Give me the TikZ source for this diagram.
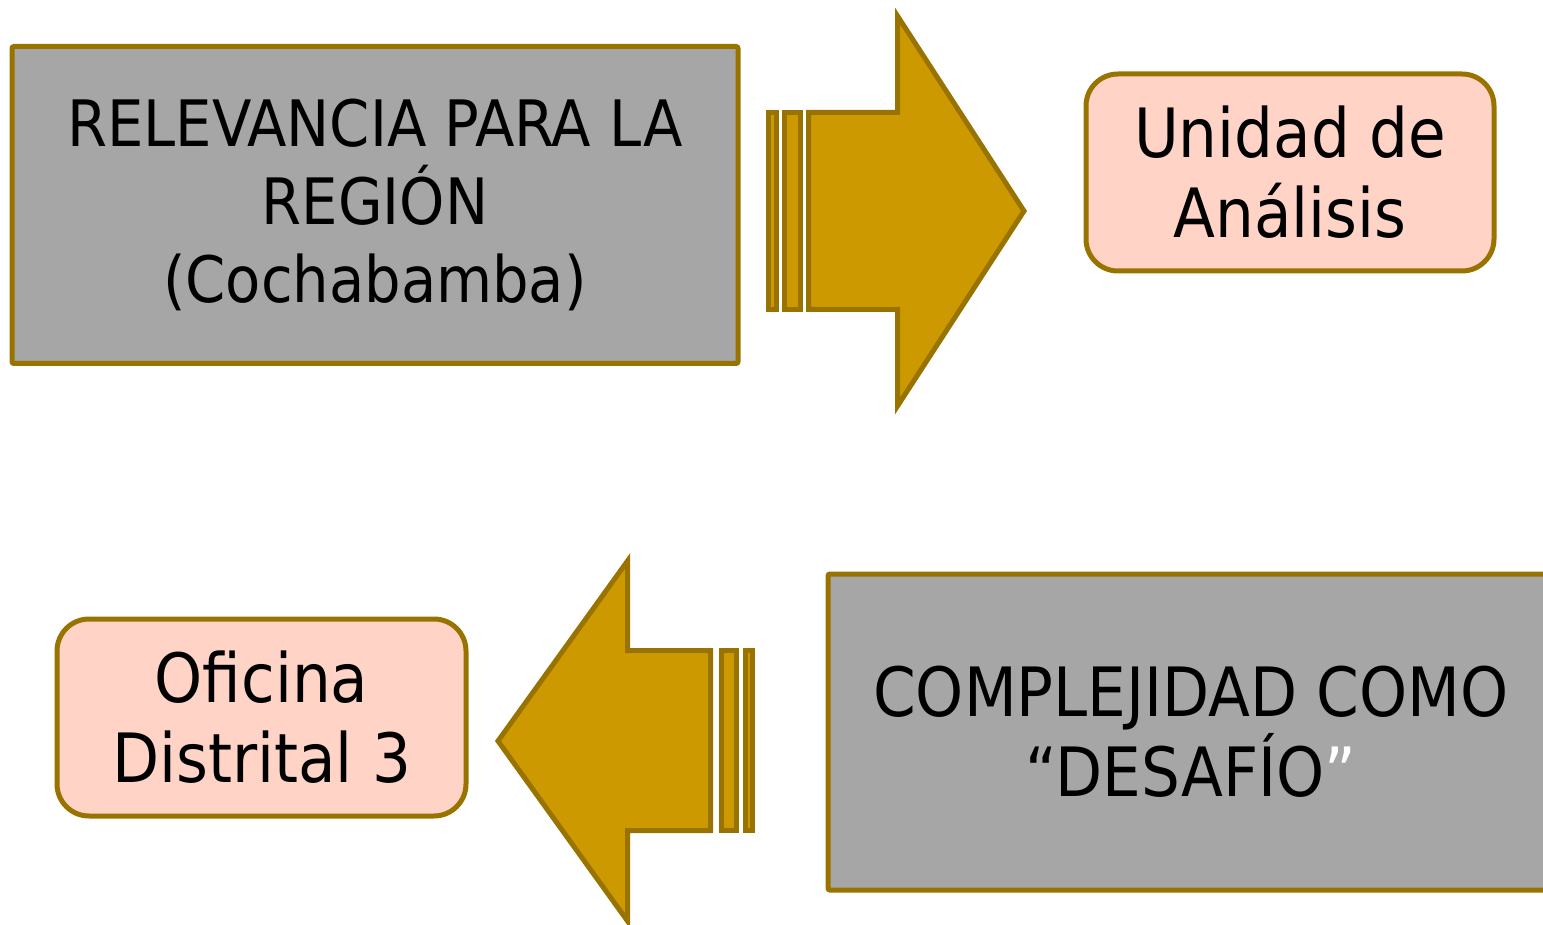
\documentclass[tikz,border=0pt]{standalone}
\usepackage{fontspec}
\setmainfont{DejaVu Sans Condensed}
\usetikzlibrary{positioning}
\definecolor{gris}{HTML}{A6A6A6}
\definecolor{rosa}{HTML}{FFD3C5}
\definecolor{oro}{HTML}{CC9900}
\definecolor{orobrd}{HTML}{997300}

\tikzset{
  caja/.style={draw=orobrd, line width=2.5pt, fill=gris, align=center,
    inner sep=0pt, rounded corners=1pt},
  tarjeta/.style={caja, fill=rosa, rounded corners=16pt},
  flecha/.style={draw=orobrd, line width=2.5pt, fill=oro, line join=miter},
}

\begin{document}
\begin{tikzpicture}[x=0.5pt,y=-0.5pt]
  \useasboundingbox (0,0) rectangle (1543,925);
  \clip (0,0) rectangle (1543,925);
  % gray boxes
  \node[caja, minimum width=363pt, minimum height=158.5pt,
        font=\fontsize{32}{39}\selectfont] (relev) at (375,205)
        {RELEVANCIA PARA LA\\REGIÓN\\(Cochabamba)};
  \node[caja, minimum width=363pt, minimum height=158pt,
        font=\fontsize{34}{40}\selectfont] (compl) at (1191,732)
        {COMPLEJIDAD COMO\\“DESAFÍO\textcolor{white}{”}};
  % pink boxes
  \node[tarjeta, minimum width=204pt, minimum height=98.5pt,
        font=\fontsize{34}{40}\selectfont] (unidad) at (1290,172.5)
        {Unidad de\\Análisis};
  \node[tarjeta, minimum width=204.5pt, minimum height=98.5pt,
        font=\fontsize{34}{40}\selectfont] (ofic) at (261.5,717.5)
        {Oficina\\Distrital 3};
  % right arrow
  \draw[flecha] (808.5,112.5) -- (897.5,112.5) -- (897.5,16) -- (1024,211)
    -- (897.5,406) -- (897.5,309.5) -- (808.5,309.5) -- cycle;
  \foreach \a/\b in {768.5/776.5, 784.5/800.5} {
    \draw[flecha] (\a,112.5) rectangle (\b,309.5);
  }
  % left arrow
  \draw[flecha] (710.5,650.5) -- (627.5,650.5) -- (627.5,561) -- (498,741)
    -- (627.5,921) -- (627.5,830.5) -- (710.5,830.5) -- cycle;
  \foreach \a/\b in {721.5/736.5, 745.5/752.5} {
    \draw[flecha] (\a,650.5) rectangle (\b,830.5);
  }
\end{tikzpicture}
\end{document}
